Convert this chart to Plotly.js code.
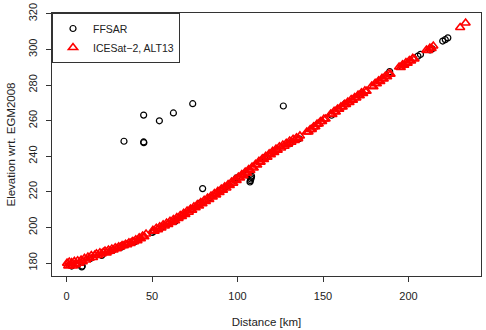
<!DOCTYPE html>
<html>
<head>
<meta charset="utf-8">
<script src="https://cdn.plot.ly/plotly-3.0.1.min.js"></script>
<style>
  html, body { margin: 0; padding: 0; background: #fff; }
  #chart { width: 486px; height: 330px; }
</style>
</head>
<body>
<div id="chart"></div>
<script>
// FFSAR retrievals (black open circles)
var ffsarX = [33.6, 45.1, 45.2, 45.1, 54.3, 54.5, 62.5, 73.8, 79.6, 126.8,
  3.0, 8.9, 9.2, 14.0, 20.6, 27.0, 32.0, 40.0, 50.2, 51.0, 56.0, 63.5, 68.0,
  73.2, 78.0, 84.0, 89.8, 93.0, 98.5, 99.5, 105.4, 107.3, 107.5, 107.8, 108.0,
  108.2, 116.0, 123.0, 130.7, 136.0, 143.0, 155.0, 159.0, 163.0, 172.0, 189.0,
  196.0, 203.0, 205.5, 207.0, 212.6, 213.8, 220.0, 221.5, 223.0];
var ffsarY = [248.4, 248.0, 247.6, 263.1, 259.9, 302.1, 264.3, 269.5, 221.8, 268.2,
  178.3, 177.8, 178.3, 182.5, 184.3, 187.0, 188.9, 192.0, 197.2, 197.8, 200.2, 203.4, 206.5,
  210.5, 213.7, 216.8, 220.8, 222.7, 226.5, 227.8, 229.5, 225.5, 226.3, 227.2, 228.0,
  228.8, 239.3, 243.5, 247.0, 249.8, 255.0, 263.0, 266.5, 269.5, 274.8, 287.5,
  290.4, 295.0, 296.2, 297.2, 299.7, 300.3, 304.7, 305.5, 306.5];

// ICESat-2 ATL13 heights (red open triangles)
var icesatX = [0.3, 1.0, 1.6, 2.3, 3.0, 3.8, 4.6, 5.5, 6.5, 7.5, 8.5, 9.5, 10.5, 11.5,
  12.5, 13.5, 14.5, 15.5, 16.5, 17.5, 18.5, 19.5, 20.5, 21.5, 22.5, 23.5, 24.5, 25.5,
  26.5, 27.5, 28.5, 29.5, 30.5, 31.5, 32.5, 33.5, 34.5, 35.5, 36.5, 37.5, 38.5, 39.5,
  40.5, 41.5, 42.5, 43.5, 44.5, 45.5, 46.5,
  50.5, 51.5, 52.5, 53.5, 54.5, 55.5, 56.5, 57.5, 58.5, 59.5, 60.5, 61.5, 62.5, 63.5,
  64.5, 65.5, 66.5, 67.5, 68.5, 69.5, 70.5, 71.5, 72.5, 73.5, 74.5, 75.5, 76.5, 77.5,
  78.5, 79.5, 80.5, 81.5, 82.5, 83.5, 84.5, 85.5, 86.5, 87.5, 88.5, 89.5, 90.5, 91.5,
  92.5, 93.5, 94.5, 95.5, 96.5, 97.5, 98.5, 99.5, 100.5, 101.5, 102.5, 103.5, 104.5,
  105.5, 106.5, 107.5, 108.5, 109.5, 110.5, 111.5, 112.5, 113.5, 114.5, 115.5, 116.5,
  117.5, 118.5, 119.5, 120.5, 121.5, 122.5, 123.5, 124.5, 125.5, 126.5, 127.5, 128.5,
  129.5, 130.5, 131.5, 132.5, 133.5, 134.5, 135.5, 136.5,
  140.5, 141.5, 142.5, 143.5, 144.5, 145.5, 146.5, 147.5, 148.5, 149.5, 150.5, 151.5,
  154.5, 155.5, 156.5, 157.5, 158.5, 159.5, 160.5, 161.5, 162.5, 163.5, 164.5, 165.5,
  166.5, 167.5, 168.5, 169.5, 170.5, 171.5, 172.5, 173.5, 174.5, 175.5,
  178.5, 179.5, 180.5, 181.5, 182.5, 183.5, 184.5, 185.5, 186.5, 187.5, 188.5, 189.5,
  194.5, 195.5, 196.5, 197.5, 198.5, 199.5, 200.5, 201.5, 202.5, 203.5,
  210.5, 211.5, 212.5, 213.5, 214.5,
  230.2, 233.4];
var icesatY = [179.9, 178.4, 180.5, 178.8, 180.2, 178.3, 180.9, 179.1, 181.3, 179.9, 181.6, 180.8, 182.7, 181.7,
  183.3, 182.7, 184.2, 183.1, 184.5, 185.2, 184.2, 185.7, 185.1, 186.0, 186.7, 185.7, 187.3, 186.7,
  187.9, 187.3, 188.6, 188.1, 189.1, 189.0, 189.8, 189.7, 190.5, 190.3, 191.3, 191.0, 192.1, 192.0,
  193.1, 192.6, 194.1, 193.6, 195.2, 194.8, 196.3,
  198.3, 197.8, 199.5, 198.7, 200.4, 199.7, 201.4, 200.8, 202.4, 201.7, 203.4, 202.8, 204.4, 203.8,
  205.6, 205.0, 206.7, 206.1, 207.9, 207.3, 209.2, 208.5, 210.3, 209.7, 211.6, 211.0, 212.8, 212.1,
  214.0, 213.3, 215.2, 214.6, 216.5, 215.7, 217.6, 217.1, 219.0, 218.3, 220.3, 219.6, 221.5, 220.9,
  222.8, 222.1, 224.1, 223.5, 225.5, 224.9, 226.9, 226.4, 228.3, 227.8, 229.7, 229.1, 231.1,
  230.5, 232.5, 232.0, 233.9, 233.4, 235.4, 235.1, 237.1, 236.7, 238.6, 238.2, 240.0,
  239.4, 241.3, 240.9, 242.7, 242.1, 244.0, 243.4, 245.3, 244.6, 246.3, 245.6, 247.3,
  246.7, 248.5, 247.8, 249.5, 248.8, 250.4, 249.9, 251.4,
  253.6, 253.6, 255.0, 255.1, 256.5, 256.6, 258.0, 258.1, 259.5, 259.5, 260.9, 260.9,
  263.7, 263.5, 265.2, 264.9, 266.5, 266.4, 267.8, 267.7, 269.1, 269.1, 270.4, 270.2,
  271.8, 271.5, 273.0, 272.7, 274.3, 274.0, 275.6, 275.3, 276.7, 276.5,
  279.4, 279.0, 281.0, 280.7, 282.3, 282.0, 283.7, 283.4, 285.0, 284.7, 286.3, 286.1,
  290.1, 289.8, 291.4, 291.1, 292.6, 292.2, 293.8, 293.5, 295.0, 294.6,
  299.6, 299.4, 300.7, 300.5, 301.9,
  312.3, 314.8];

var xTicks = [0, 50, 100, 150, 200];
var yTicks = [180, 200, 220, 240, 260, 280, 300, 320];

var font = "Liberation Sans, Arial, Helvetica, sans-serif";

var ffsar = {
  x: ffsarX, y: ffsarY,
  name: "FFSAR",
  type: "scatter", mode: "markers",
  marker: {symbol: "circle-open", size: 6, color: "#000", line: {width: 1.2, color: "#000"}}
};

var icesat = {
  x: icesatX, y: icesatY,
  name: "ICESat\u22122, ALT13",
  type: "scatter", mode: "markers",
  marker: {symbol: "triangle-up-open", size: 8, color: "#ff0000", line: {width: 1.6, color: "#ff0000"}}
};

var layout = {
  width: 486, height: 330,
  margin: {l: 52, r: 5, t: 13, b: 54},
  paper_bgcolor: "#fff", plot_bgcolor: "#fff",
  font: {family: font, size: 11, color: "#222"},
  showlegend: true,
  legend: {
    x: 0, y: 1, xanchor: "left", yanchor: "top",
    bgcolor: "#fff", bordercolor: "#333", borderwidth: 1,
    font: {family: font, size: 10.5, color: "#222"},
    tracegroupgap: 0
  },
  xaxis: {
    range: [-8.5, 242.4],
    tickvals: xTicks, ticktext: xTicks.map(String),
    ticks: "outside", ticklen: 5, tickcolor: "#333", tickwidth: 1,
    ticklabelstandoff: 5,
    showline: true, linecolor: "#333", linewidth: 1, mirror: true,
    showgrid: false, zeroline: false,
    title: {text: "Distance [km]", font: {family: font, size: 11.5}, standoff: 16}
  },
  yaxis: {
    range: [172.7, 320.45],
    tickvals: yTicks, ticktext: yTicks.map(String),
    tickangle: -90,
    ticks: "outside", ticklen: 5, tickcolor: "#333", tickwidth: 1,
    ticklabelstandoff: 5,
    showline: true, linecolor: "#333", linewidth: 1, mirror: true,
    showgrid: false, zeroline: false,
    title: {text: "Elevation wrt. EGM2008", font: {family: font, size: 11.5}, standoff: 8}
  }
};

Plotly.newPlot("chart", [ffsar, icesat], layout, {displayModeBar: false, staticPlot: true});
</script>
</body>
</html>
